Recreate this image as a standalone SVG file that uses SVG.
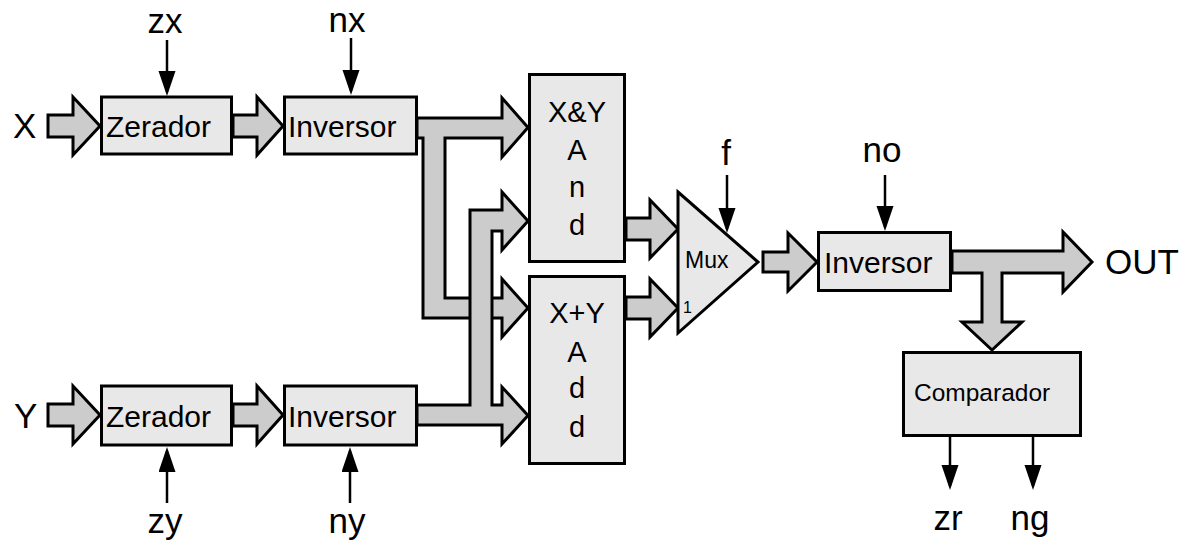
<svg xmlns="http://www.w3.org/2000/svg" width="1187" height="543" viewBox="0 0 1187 543">
<style>
.box{fill:#e8e8e8;stroke:#000;stroke-width:3}
.bus{fill:#cccccc;stroke:#000;stroke-width:3;stroke-linejoin:miter}
.sig{stroke:#000;stroke-width:2.5;fill:none;marker-end:url(#ah)}
text{font-family:"Liberation Sans",Arial,sans-serif;fill:#000}
.lbl{font-size:35px}
.bt{font-size:30px}
.vt{font-size:29px;text-anchor:middle}
.mid{text-anchor:middle}
</style>
<defs>
<marker id="ah" markerUnits="userSpaceOnUse" markerWidth="26" markerHeight="18" refX="21" refY="8.5" orient="auto">
<path d="M0,0 L25,8.5 L0,17 Z" fill="#000"/>
</marker>
</defs>
<rect width="1187" height="543" fill="#fff"/>
<g id="connectors">
<polygon class="bus" points="48,115 73,115 73,97 100,126 73,155 73,137 48,137"/>
<polygon class="bus" points="233,115 257,115 257,97 283,126 257,155 257,137 233,137"/>
<polygon class="bus" points="48,404 73,404 73,386 100,415 73,444 73,426 48,426"/>
<polygon class="bus" points="233,404 257,404 257,386 283,415 257,444 257,426 233,426"/>
<polygon class="bus" points="417,118 502,118 502,98 528,127.5 502,157 502,138 445,138 445,298 502,298 502,279 528,308 502,337 502,318 423,318 423,138 417,138"/>
<polygon class="bus" points="417,405 470,405 470,210 502,210 502,192 528,221 502,250 502,231 492,231 492,405 502,405 502,387 528,415.5 502,444 502,425 417,425"/>
<polygon class="bus" points="626,218 650,218 650,200 678,229 650,258 650,240 626,240"/>
<polygon class="bus" points="626,297 650,297 650,279 678,308 650,337 650,319 626,319"/>
<polygon class="bus" points="763,252 788,252 788,233 817,262 788,291 788,272 763,272"/>
<polygon class="bus" points="952,251 1063,251 1063,232 1092,262 1063,292 1063,273 1002,273 1002,322 1022,322 992,350 962,322 982,322 982,273 952,273"/>
<line class="sig" x1="167" y1="40" x2="167" y2="92"/>
<line class="sig" x1="351" y1="38" x2="351" y2="91"/>
<line class="sig" x1="167" y1="503" x2="167" y2="451"/>
<line class="sig" x1="350" y1="503" x2="350" y2="451"/>
<line class="sig" x1="727" y1="175" x2="727" y2="229"/>
<line class="sig" x1="885" y1="175" x2="885" y2="227"/>
<line class="sig" x1="950" y1="437" x2="950" y2="486"/>
<line class="sig" x1="1033" y1="437" x2="1033" y2="486"/>
</g>
<g id="zerador-x"><rect class="box" x="101.5" y="97" width="130" height="57"/><text class="bt" x="106" y="137">Zerador</text></g>
<g id="inversor-x"><rect class="box" x="284.5" y="97" width="132" height="57"/><text class="bt" x="288" y="137">Inversor</text></g>
<g id="zerador-y"><rect class="box" x="101.5" y="386" width="130" height="59"/><text class="bt" x="106" y="427">Zerador</text></g>
<g id="inversor-y"><rect class="box" x="284.5" y="386" width="132" height="59"/><text class="bt" x="288" y="427">Inversor</text></g>
<g id="and"><rect class="box" x="529.5" y="74.5" width="95" height="187"/>
<text class="vt" x="577" y="122">X&amp;Y</text><text class="vt" x="577" y="160">A</text><text class="vt" x="577" y="197">n</text><text class="vt" x="577" y="235">d</text></g>
<g id="add"><rect class="box" x="529.5" y="276.5" width="95" height="187"/>
<text class="vt" x="577" y="323">X+Y</text><text class="vt" x="577" y="362">A</text><text class="vt" x="577" y="398">d</text><text class="vt" x="577" y="437">d</text></g>
<g id="mux"><polygon class="box" points="678,192 758,262 678,333"/><text x="685" y="268" style="font-size:23px">Mux</text><text x="683" y="313" style="font-size:16px">1</text></g>
<g id="inversor-out"><rect class="box" x="818.5" y="232.5" width="132" height="58"/><text class="bt" x="824" y="273">Inversor</text></g>
<g id="comparador"><rect class="box" x="903.5" y="352.5" width="177" height="83"/><text x="914" y="401" style="font-size:24.5px">Comparador</text></g>
<g id="labels">
<text class="lbl" x="13" y="138">X</text>
<text class="lbl" x="14" y="428">Y</text>
<text class="lbl mid" x="165" y="33">zx</text>
<text class="lbl mid" x="347" y="32">nx</text>
<text class="lbl mid" x="165" y="533">zy</text>
<text class="lbl mid" x="347" y="533">ny</text>
<text class="lbl mid" x="726" y="165">f</text>
<text class="lbl mid" x="882" y="162">no</text>
<text class="lbl" x="1105" y="274">OUT</text>
<text class="lbl mid" x="948" y="530">zr</text>
<text class="lbl mid" x="1030" y="530">ng</text>
</g>
</svg>
